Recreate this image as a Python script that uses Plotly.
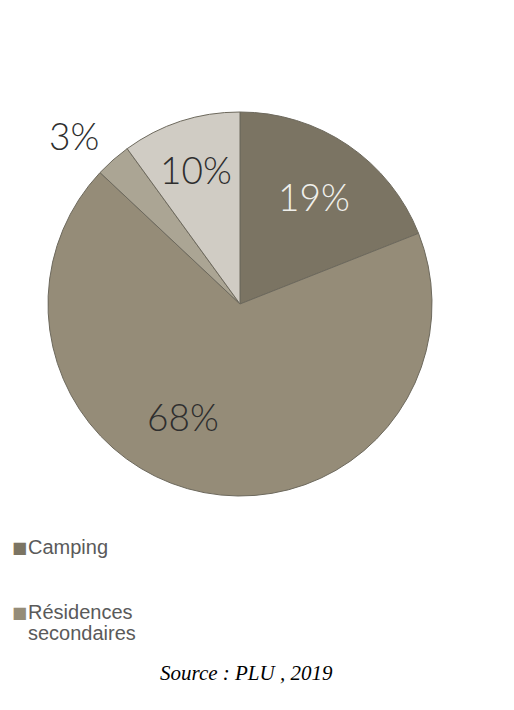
import plotly.graph_objects as go

categories = ["Camping", "Résidences secondaires", "Hôtels", "Autres"]
values = [19, 68, 3, 10]
slice_colors = ["#7b7463", "#958c78", "#aba594", "#d0ccc4"]
label_colors = ["#f0f0ec", "#2e2e2e", "#2e2e2e", "#2e2e2e"]
legend_items = ["Camping", "Résidences", "secondaires"]
legend_colors = ["#7b7463", "#958c78", None]
source_text = "Source : PLU , 2019"

W, H = 514, 710
OFF = 8  # page margin of the browser around the figure


def px(x):
    return (x - OFF) / W


def py(y):
    return 1 - (y - OFF) / H


fig = go.Figure()
fig.add_trace(go.Pie(
    labels=categories,
    values=values,
    sort=False,
    direction="clockwise",
    rotation=0,
    marker=dict(colors=slice_colors, line=dict(color="#6d695d", width=1)),
    textinfo="none",
    showlegend=False,
    hoverinfo="label+percent",
    domain=dict(x=[px(48), px(432)], y=[py(496), py(112)]),
))

# percentage labels, placed freely as in the original
label_pos = [(314, 196), (183, 416), (74, 136), (196, 169)]
for v, col, (xx, yy) in zip(values, label_colors, label_pos):
    fig.add_annotation(
        x=px(xx), y=py(yy), xref="paper", yref="paper",
        xanchor="center", yanchor="middle", showarrow=False,
        text=f"{v}%",
        font=dict(family="Lato", size=37, color=col, weight=300),
    )

legend_y = [547, 612, 633]
for txt, col, yy in zip(legend_items, legend_colors, legend_y):
    if col is not None:
        fig.add_annotation(
            x=px(10), y=py(yy), xref="paper", yref="paper",
            xanchor="left", yanchor="middle", showarrow=False,
            text="■",
            font=dict(family="DejaVu Sans", size=16, color=col),
        )
    fig.add_annotation(
        x=px(26), y=py(yy), xref="paper", yref="paper",
        xanchor="left", yanchor="middle", showarrow=False,
        text=txt,
        font=dict(family="Liberation Sans", size=20, color="#5a5a5a"),
    )

fig.add_annotation(
    x=px(246), y=py(673), xref="paper", yref="paper",
    xanchor="center", yanchor="middle", showarrow=False,
    text=f"<i>{source_text}</i>",
    font=dict(family="Liberation Serif", size=21, color="#000000"),
)

fig.update_layout(
    width=W, height=H,
    margin=dict(l=0, r=0, t=0, b=0),
    paper_bgcolor="white", plot_bgcolor="white",
)
fig.write_html("out.html")
